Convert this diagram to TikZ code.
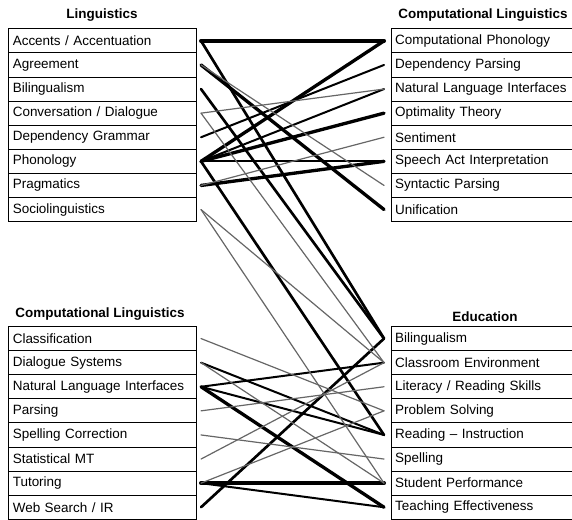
\documentclass[tikz,border=0pt]{standalone}
\usepackage{fontspec}
\setmainfont{Liberation Sans}

\begin{document}
\begin{tikzpicture}[x=0.75pt, y=-0.75pt, line cap=round,
  cell/.style={draw, line width=0.75pt, anchor=north west, minimum height=18.075pt,
    inner xsep=3pt, align=left, font=\fontsize{10.1}{12}\selectfont},
  lcell/.style={cell, text width=134.4pt},
  rcell/.style={cell, text width=129.75pt},
  head/.style={font=\fontsize{10.1}{12}\selectfont\bfseries},
  w1/.style={line width=0.9pt, black!60},
  w2/.style={line width=1.5pt},
  w3/.style={line width=2pt},
  w4/.style={line width=2.5pt},
  w5/.style={line width=3pt}]
\useasboundingbox (0,0) rectangle (572,519);

% column heads
\node[head] (hling) at (102,15) {Linguistics};
\node[head] (hcomp) at (483,15) {Computational Linguistics};
\node[head] (hclin) at (100,314) {Computational Linguistics};
\node[head] (hedu) at (485,317) {Education};

% the four lists
\foreach \t [count=\i] in {Accents / Accentuation, Agreement, Bilingualism,
    Conversation / Dialogue, Dependency Grammar, Phonology, Pragmatics, Sociolinguistics}{
  \node[lcell] (ling\i) at (8.3,{28.3+24.1*(\i-1)}) {\t};
  \coordinate (p-ling\i) at ([xshift=3.4pt]ling\i.east);
}
\foreach \t [count=\i] in {Computational Phonology, Dependency Parsing,
    Natural Language Interfaces, Optimality Theory, Sentiment,
    Speech Act Interpretation, Syntactic Parsing, Unification}{
  \node[rcell] (comp\i) at (390.7,{28.3+24.1*(\i-1)}) {\t};
  \coordinate (p-comp\i) at ([xshift=-5pt]comp\i.west);
}
\foreach \t [count=\i] in {Classification, Dialogue Systems, Natural Language Interfaces,
    Parsing, Spelling Correction, Statistical MT, Tutoring, Web Search / IR}{
  \node[lcell] (clin\i) at (8.3,{326+24.1*(\i-1)}) {\t};
  \coordinate (p-clin\i) at ([xshift=3.4pt]clin\i.east);
}
\foreach \t [count=\i] in {Bilingualism, Classroom Environment, Literacy / Reading Skills,
    Problem Solving, Reading – Instruction, Spelling, Student Performance,
    Teaching Effectiveness}{
  \node[rcell] (edu\i) at (390.7,{326+24.1*(\i-1)}) {\t};
  \coordinate (p-edu\i) at ([xshift=-5pt]edu\i.west);
}

% links, strongest first
\foreach \a/\b in {ling1/comp1, clin7/edu7}
  \draw[w5] (p-\a) -- (p-\b);
\foreach \a/\b in {ling2/comp8, ling6/comp1, ling6/comp4, ling7/comp6, clin3/edu8}
  \draw[w4] (p-\a) -- (p-\b);
\foreach \a/\b in {ling1/edu1, ling3/edu1, ling6/edu5, clin8/edu1}
  \draw[w3] (p-\a) -- (p-\b);
\foreach \a/\b in {ling5/comp2, ling6/comp3, ling6/comp6, clin2/edu5, clin3/edu2,
    clin3/edu5, clin7/edu8}
  \draw[w2] (p-\a) -- (p-\b);
\foreach \a/\b in {ling2/comp7, ling4/comp3, ling4/edu2, ling7/comp5, ling8/edu2,
    ling8/edu7, clin1/edu4, clin2/edu7, clin4/edu3, clin5/edu6, clin6/edu2, clin7/edu4}
  \draw[w1] (p-\a) -- (p-\b);
\end{tikzpicture}
\end{document}
